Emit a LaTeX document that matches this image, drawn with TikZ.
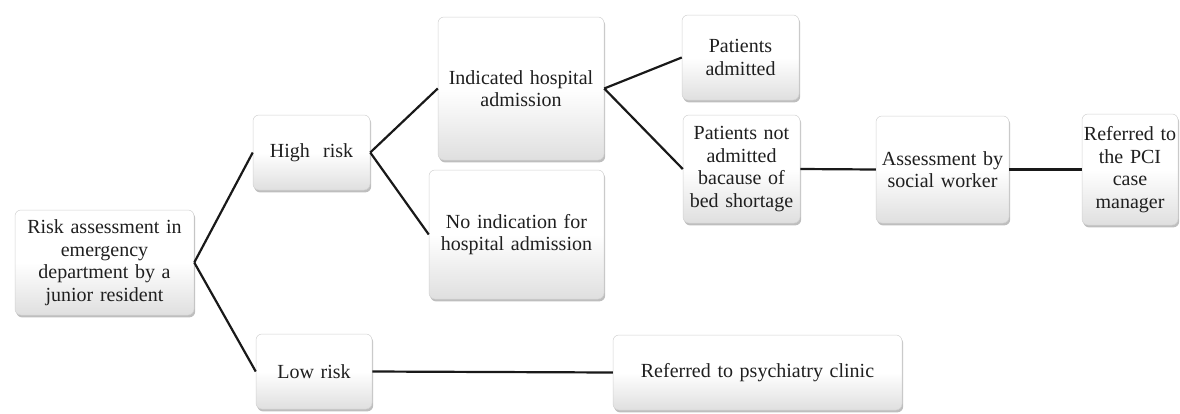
\documentclass[tikz,border=0pt]{standalone}
\usepackage{fontspec}
\setmainfont{Liberation Serif}
\usetikzlibrary{shadows}
\begin{document}
\begin{tikzpicture}[x=1pt,y=-1pt,
  box/.style={rectangle, rounded corners=6pt, draw=gray!35, line width=0.5pt,
    top color=white, bottom color=gray!25, middle color=white,
    drop shadow={shadow xshift=1.2pt, shadow yshift=-2.4pt, opacity=0.6, fill=gray!85},
    align=center, inner sep=0pt,
    font=\fontsize{20}{22.5}\selectfont, text=black!88},
  link/.style={line width=2.2pt, black!90}]
\useasboundingbox (0,0) rectangle (1180,413);
\newcommand{\bx}[6]{\node[box, minimum width=#4-#2, minimum height=#5-#3, text width=#4-#2] (#1) at ({(#2+#4)/2},{(#3+#5)/2}) {#6};}
\bx{risk}{15}{210}{194}{315}{\makebox[0pt]{Risk assessment in}\\emergency\\department by a\\junior resident}
\bx{high}{253}{115}{370}{190}{High\ \ risk}
\bx{low}{256}{334}{372}{409}{Low risk}
\bx{ind}{438}{17}{604}{160}{\makebox[0pt]{Indicated hospital}\\admission}
\bx{noind}{429}{170}{604}{299}{No indication for\\hospital admission}
\bx{adm}{682}{15}{799}{100}{Patients\\admitted}
\bx{notadm}{683}{115}{800}{223}{Patients not\\admitted\\bacause of\\\makebox[0pt]{bed shortage}}
\bx{social}{876}{116}{1009}{223}{\makebox[0pt]{Assessment by}\\social worker}
\bx{pci}{1082}{114}{1178}{225}{\makebox[0pt]{Referred to}\\the PCI\\case\\manager}
\bx{psy}{613}{335}{902}{410}{Referred to psychiatry clinic}
\draw[link] (risk.east) -- (high.west);
\draw[link] (risk.east) -- (low.west);
\draw[link] (high.east) -- (ind.west);
\draw[link] (high.east) -- (noind.west);
\draw[link] (ind.east) -- (adm.west);
\draw[link] (ind.east) -- (notadm.west);
\draw[link] (notadm.east) -- (social.west);
\draw[link] (social.east) -- (pci.west);
\draw[link] (low.east) -- (psy.west);
\end{tikzpicture}
\end{document}
